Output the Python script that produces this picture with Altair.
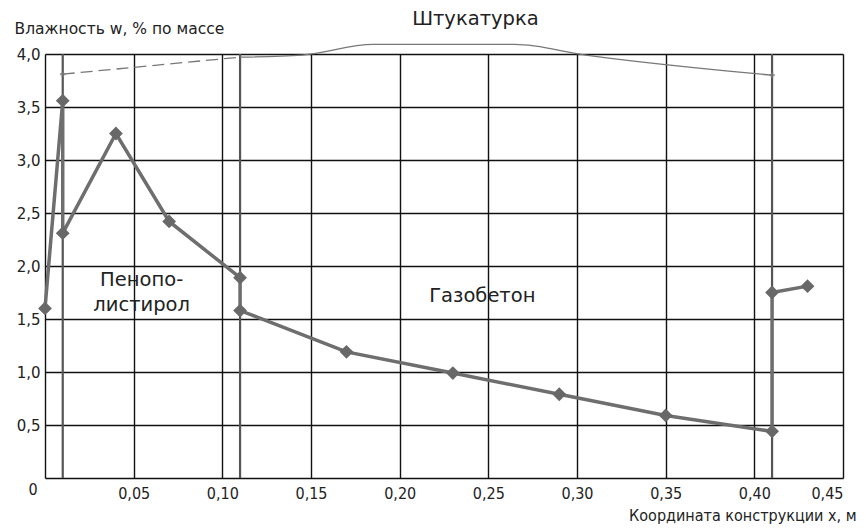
import altair as alt
import pandas as pd

# Main moisture profile
main_x = [0, 0.01, 0.01, 0.04, 0.07, 0.11, 0.11, 0.17, 0.23, 0.29, 0.35, 0.41, 0.41, 0.43]
main_y = [1.60, 3.56, 2.31, 3.25, 2.42, 1.89, 1.58, 1.19, 0.99, 0.79, 0.59, 0.44, 1.75, 1.81]

# Plaster curve (dashed part + solid part)
plaster_dash_x = [0.01, 0.11]
plaster_dash_y = [3.81, 3.97]
plaster_solid_x = [0.11, 0.145, 0.185, 0.265, 0.305, 0.41]
plaster_solid_y = [3.97, 3.99, 4.09, 4.09, 3.99, 3.80]

# Layer boundaries
boundary_x = [0.01, 0.11, 0.41]

x_ticks = [0, 0.05, 0.10, 0.15, 0.20, 0.25, 0.30, 0.35, 0.40, 0.45]
y_ticks = [0, 0.5, 1.0, 1.5, 2.0, 2.5, 3.0, 3.5, 4.0]

labels_txt = ["Пенопо-", "листирол", "Газобетон", "Штукатурка"]
labels_x = [0.0545, 0.0545, 0.2466, 0.2427]
labels_y = [1.87, 1.63, 1.72, 4.33]

main_df = pd.DataFrame({"x": main_x, "y": main_y, "o": list(range(len(main_x)))})
dash_df = pd.DataFrame({"x": plaster_dash_x, "y": plaster_dash_y, "o": [0, 1]})
solid_df = pd.DataFrame({"x": plaster_solid_x, "y": plaster_solid_y, "o": list(range(len(plaster_solid_x)))})
ends_df = pd.DataFrame({"x": [plaster_dash_x[0], plaster_solid_x[-1]], "y": [plaster_dash_y[0], plaster_solid_y[-1]]})
bound_df = pd.DataFrame({"x": boundary_x})
lab_df = pd.DataFrame({"t": labels_txt, "x": labels_x, "y": labels_y})
zero_df = pd.DataFrame({"x": [0], "y": [0], "t": ["0"]})

NARROW = "Liberation Sans Narrow, DejaVu Sans Condensed, Liberation Sans, Arial, sans-serif"
WIDE = "DejaVu Sans, Verdana, sans-serif"

xscale = alt.Scale(domain=[0, 0.45], nice=False, zero=False)
yscale = alt.Scale(domain=[0, 4.0], nice=False, zero=False)

xaxis = alt.Axis(
    values=x_ticks,
    labelExpr="datum.value == 0 ? '' : replace(format(datum.value, '.2f'), '.', ',')",
    grid=True, gridColor="#111", gridWidth=1.4,
    domain=False, ticks=False, labelPadding=7,
    labelFont=NARROW, labelFontSize=16, labelColor="#222",
    title="Координата конструкции x, м", titleFont=NARROW, titleFontSize=16,
    titleFontWeight="normal", titleColor="#222",
    titleAnchor="end", titleAlign="right", titleX=811, titleY=37, titleBaseline="middle",
)
yaxis = alt.Axis(
    values=y_ticks,
    labelExpr="datum.value == 0 ? '' : replace(format(datum.value, '.1f'), '.', ',')",
    grid=True, gridColor="#111", gridWidth=1.4,
    domain=False, ticks=False, labelPadding=5,
    labelFont=WIDE, labelFontSize=15, labelColor="#222",
    title="Влажность w, % по массе", titleFont=WIDE, titleFontSize=15.5,
    titleFontWeight="normal", titleColor="#222", titleAngle=0,
    titleAlign="left", titleBaseline="middle", titleX=-31, titleY=-26,
)

grid = alt.Chart(bound_df).mark_rule(color="#555", strokeWidth=2.2).encode(
    x=alt.X("x:Q", scale=xscale, axis=xaxis),
    y=alt.value(0), y2=alt.value(424),
)
# invisible layer carrying y axis
yaxis_layer = alt.Chart(main_df).mark_point(opacity=0).encode(
    x=alt.X("x:Q", scale=xscale),
    y=alt.Y("y:Q", scale=yscale, axis=yaxis),
)

dash = alt.Chart(dash_df).mark_line(color="#777", strokeWidth=1.3, strokeDash=[12, 6]).encode(
    x=alt.X("x:Q", scale=xscale), y=alt.Y("y:Q", scale=yscale), order="o:Q")
solid = alt.Chart(solid_df).mark_line(color="#777", strokeWidth=1.3, interpolate="monotone").encode(
    x=alt.X("x:Q", scale=xscale), y=alt.Y("y:Q", scale=yscale), order="o:Q")
ends = alt.Chart(ends_df).mark_point(shape="cross", filled=True, color="#777", size=30).encode(
    x=alt.X("x:Q", scale=xscale), y=alt.Y("y:Q", scale=yscale))

line = alt.Chart(main_df).mark_line(color="#6e6e6e", strokeWidth=3.5).encode(
    x=alt.X("x:Q", scale=xscale), y=alt.Y("y:Q", scale=yscale), order="o:Q")
pts = alt.Chart(main_df).mark_point(shape="diamond", filled=True, color="#686868", size=190, opacity=1).encode(
    x=alt.X("x:Q", scale=xscale), y=alt.Y("y:Q", scale=yscale))

labels = alt.Chart(lab_df).mark_text(font=WIDE, fontSize=19.5, color="#222").encode(
    x=alt.X("x:Q", scale=xscale), y=alt.Y("y:Q", scale=yscale), text="t:N")
zero = alt.Chart(zero_df).mark_text(font=NARROW, fontSize=16, color="#222", dx=-12, dy=12).encode(
    x=alt.X("x:Q", scale=xscale), y=alt.Y("y:Q", scale=yscale), text="t:N")

chart = alt.layer(grid, yaxis_layer, dash, solid, ends, line, pts, labels, zero).properties(
    width=798, height=424,
    autosize=alt.AutoSizeParams(type="none"),
    padding={"left": 37, "top": 46, "right": 15, "bottom": 46},
).configure_view(stroke="#111", strokeWidth=1.5).configure(background="white")

chart.save("out.html", embed_options={"renderer": "svg", "actions": False})
